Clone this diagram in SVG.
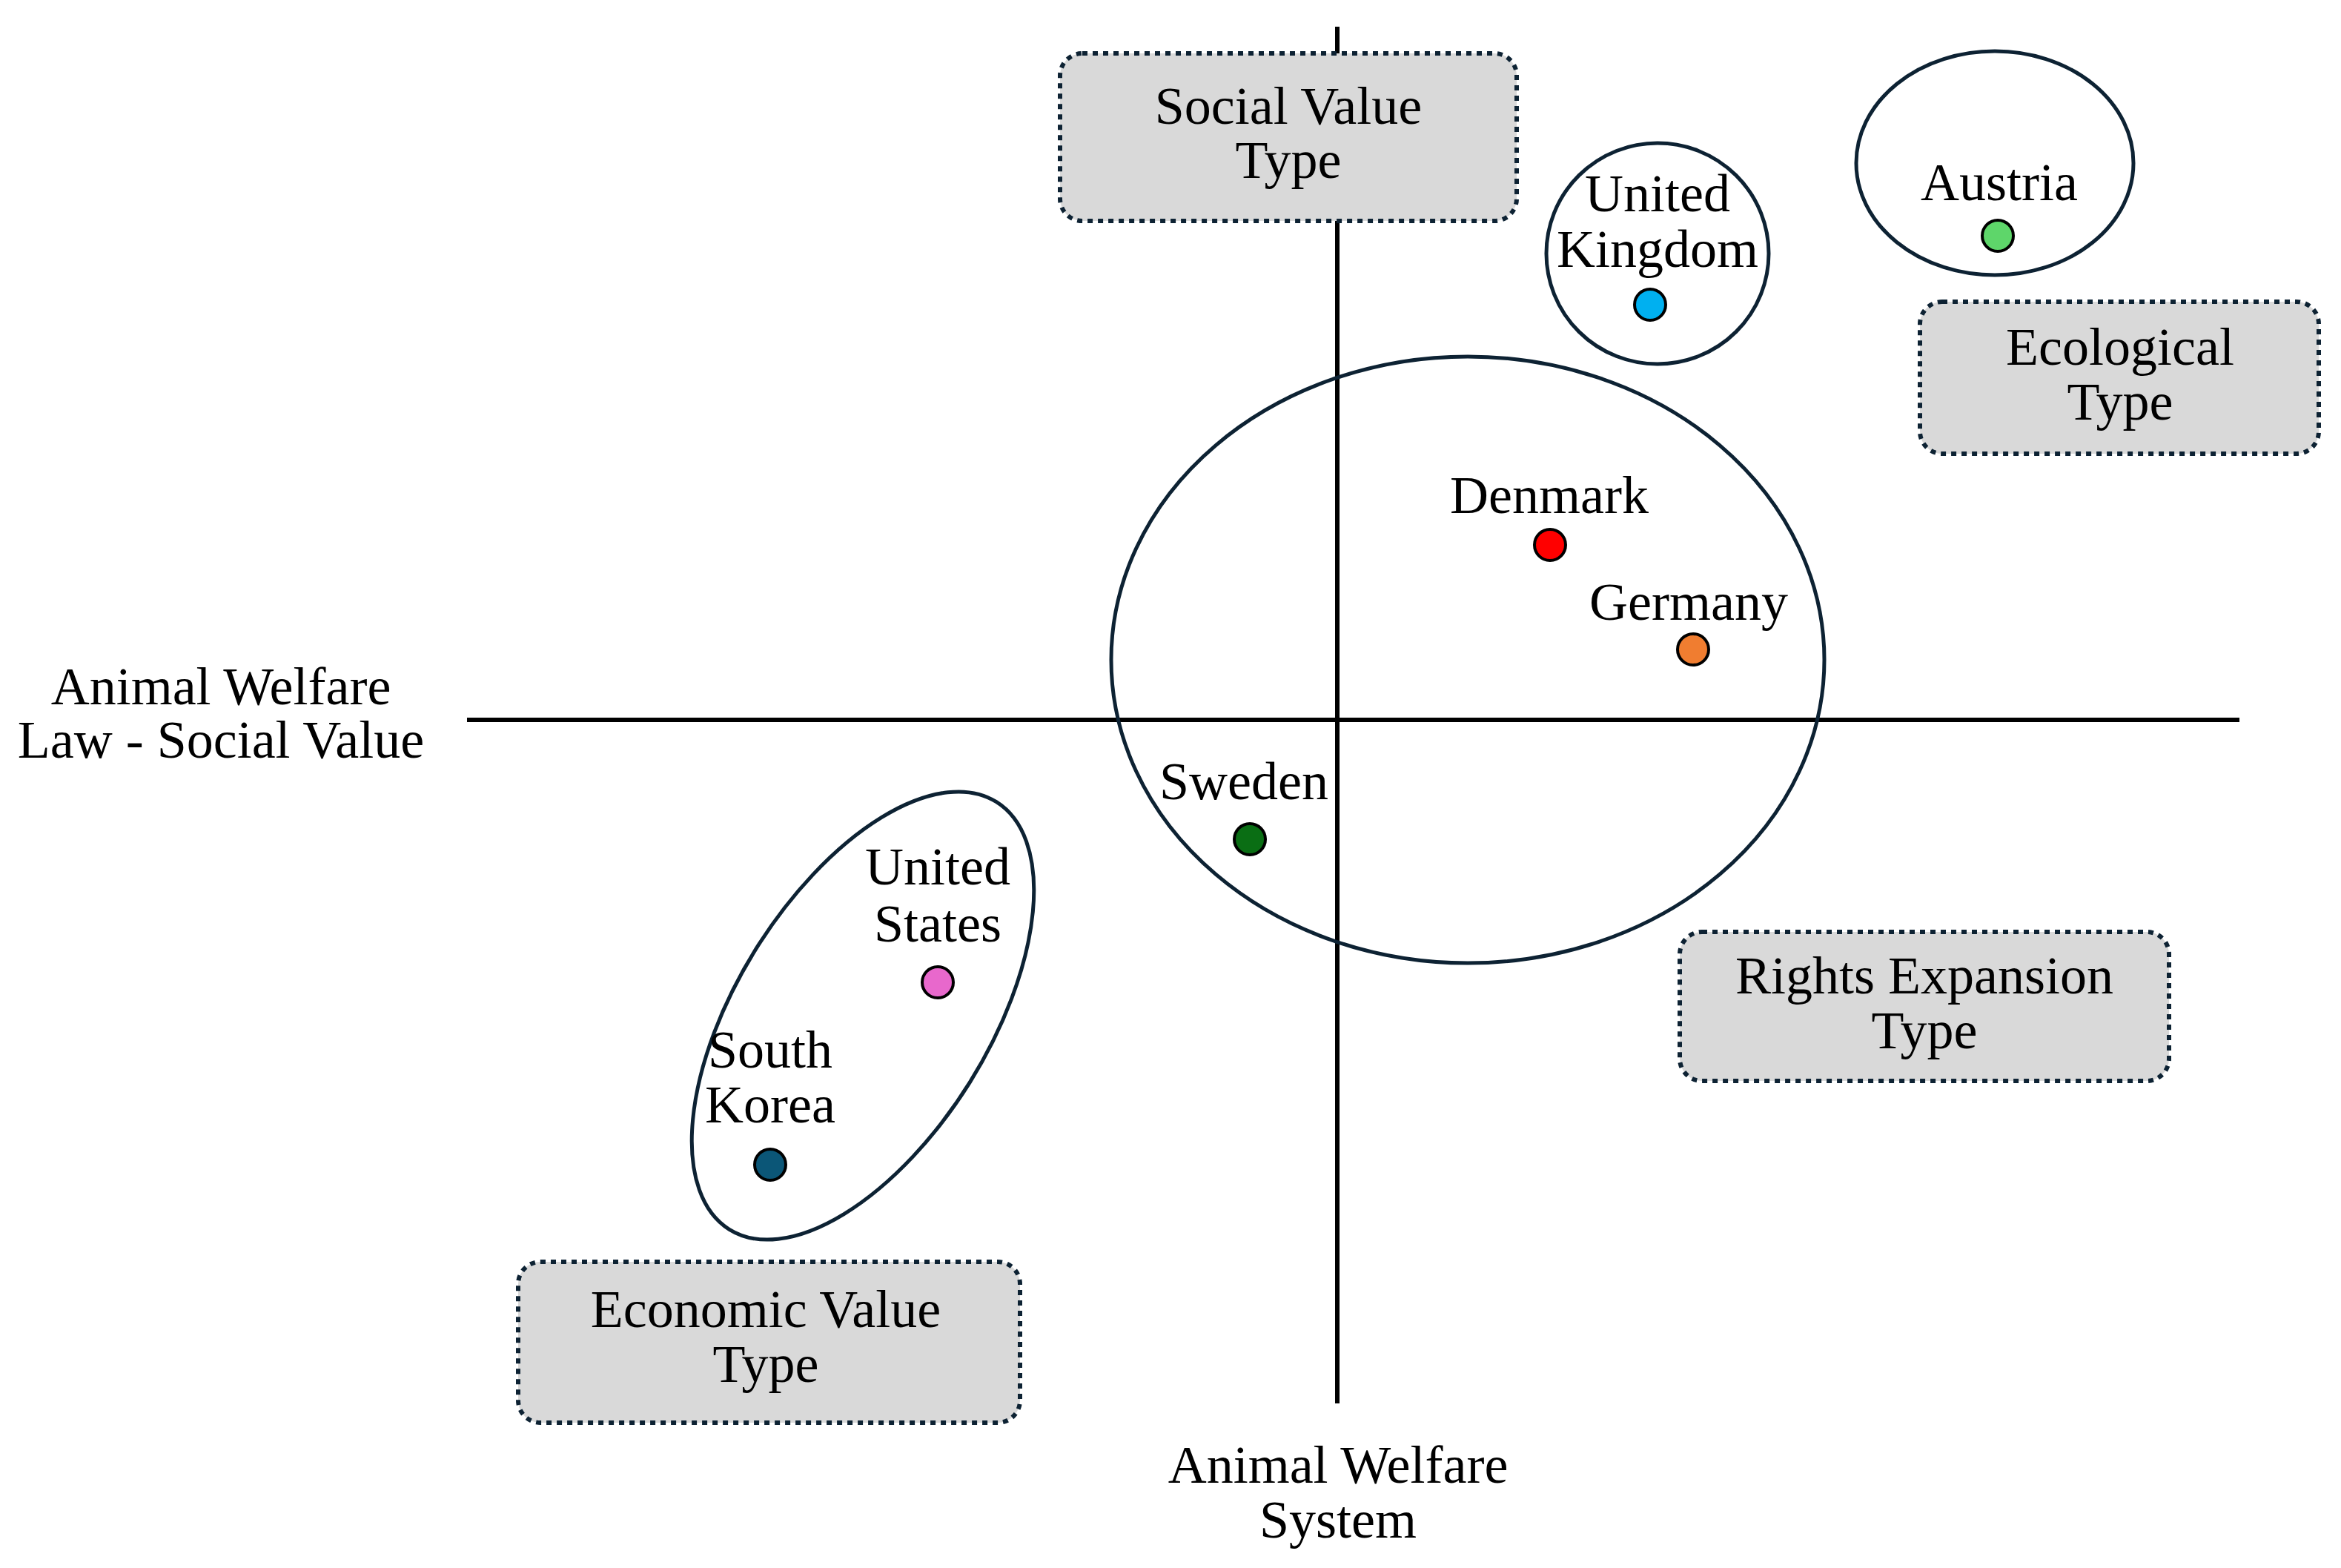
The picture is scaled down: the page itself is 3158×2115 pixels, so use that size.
<svg xmlns="http://www.w3.org/2000/svg" width="3158" height="2115" viewBox="0 0 3158 2115">
<style>
text{font-family:"Liberation Serif","Times New Roman",serif;font-size:72px;fill:#000;text-anchor:middle}
.box{fill:#d9d9d9;stroke:#0d2233;stroke-width:6;stroke-dasharray:7 7}
.ell{fill:none;stroke:#0d2233;stroke-width:5}
.dot{stroke:#000;stroke-width:4}
.axis{stroke:#000;stroke-width:6}
</style>
<rect width="3158" height="2115" fill="#fff"/>
<g id="axes">
<line class="axis" x1="1804" y1="36" x2="1804" y2="1893"/>
<line class="axis" x1="630" y1="971" x2="3021" y2="971"/>
</g>
<g id="connectors"/>
<g id="social"><rect class="box" x="1430" y="72" width="616" height="226" rx="30"/><text x="1738" y="167">Social Value</text><text x="1738" y="240">Type</text></g>
<g id="ecological"><rect class="box" x="2590" y="407" width="538" height="205" rx="30"/><text x="2860" y="492">Ecological</text><text x="2860" y="566">Type</text></g>
<g id="rights"><rect class="box" x="2266" y="1257" width="660" height="201" rx="30"/><text x="2596" y="1340">Rights Expansion</text><text x="2596" y="1414">Type</text></g>
<g id="economic"><rect class="box" x="699" y="1702" width="677" height="217" rx="30"/><text x="1033" y="1790">Economic Value</text><text x="1033" y="1864">Type</text></g>
<g id="uk"><ellipse class="ell" cx="2236" cy="342" rx="150" ry="149"/><text x="2236" y="285">United</text><text x="2236" y="360">Kingdom</text><circle class="dot" cx="2226" cy="411" r="21" fill="#00b0f0"/></g>
<g id="austria"><ellipse class="ell" cx="2691" cy="220" rx="187" ry="151"/><text x="2697" y="270">Austria</text><circle class="dot" cx="2695" cy="318" r="21" fill="#5ed66a"/></g>
<g id="central"><ellipse class="ell" cx="1980" cy="890" rx="481" ry="409"/></g>
<g id="denmark"><text x="2090" y="692">Denmark</text><circle class="dot" cx="2091" cy="735" r="21" fill="#ff0000"/></g>
<g id="germany"><text x="2278" y="836">Germany</text><circle class="dot" cx="2284" cy="876" r="21" fill="#f07d30"/></g>
<g id="sweden"><text x="1678" y="1078">Sweden</text><circle class="dot" cx="1686" cy="1132" r="21" fill="#0a6e14"/></g>
<g id="usk"><ellipse class="ell" cx="1164" cy="1370" rx="340" ry="170" transform="rotate(-58 1164 1370)"/></g>
<g id="us"><text x="1265" y="1193">United</text><text x="1265" y="1270">States</text><circle class="dot" cx="1265" cy="1325" r="21" fill="#e868cc"/></g>
<g id="sk"><text x="1039" y="1440">South</text><text x="1039" y="1514">Korea</text><circle class="dot" cx="1039" cy="1571" r="21" fill="#0b5677"/></g>
<g id="xlabel"><text x="298" y="950">Animal Welfare</text><text x="298" y="1022">Law - Social Value</text></g>
<g id="ylabel"><text x="1805" y="2000">Animal Welfare</text><text x="1805" y="2074">System</text></g>
</svg>
